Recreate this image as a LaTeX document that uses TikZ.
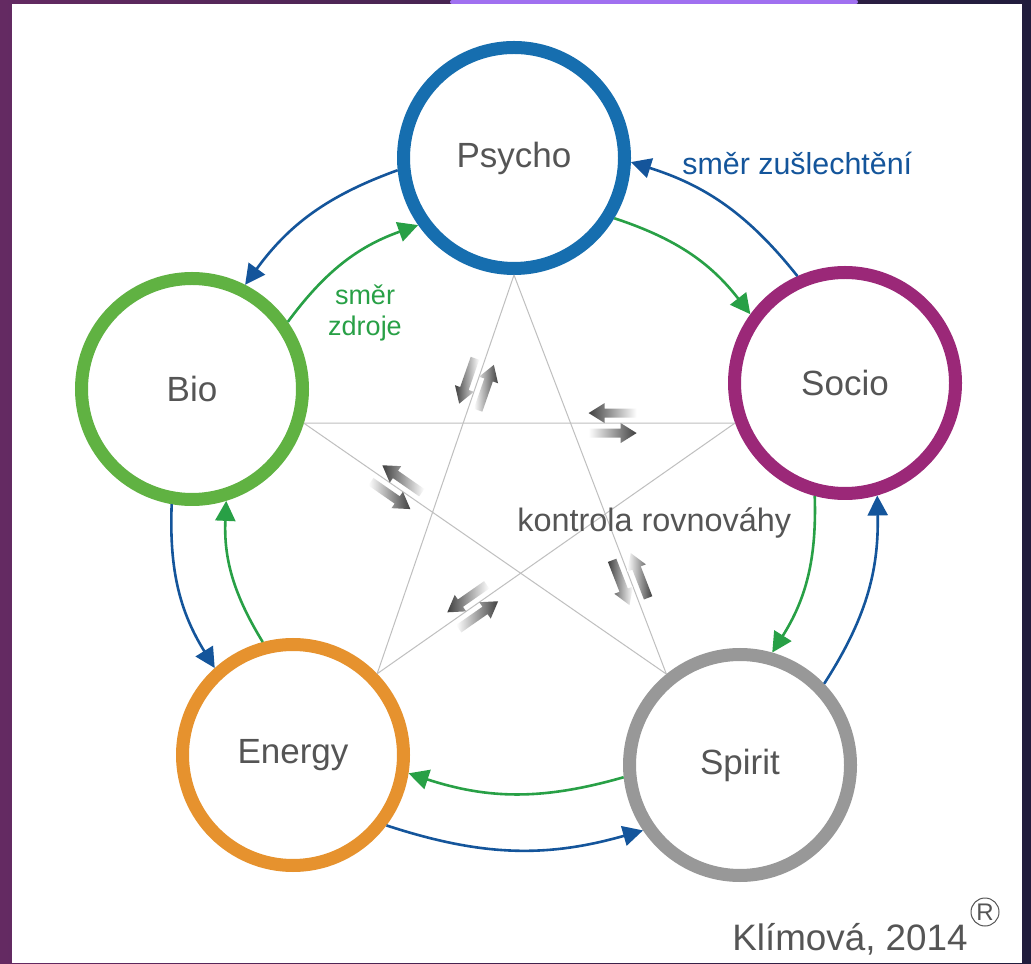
\documentclass[tikz,border=0pt]{standalone}
\usepackage{fontspec}
\setmainfont{Liberation Sans}
\usetikzlibrary{arrows.meta}
\definecolor{psyblue}{RGB}{22,110,175}
\definecolor{biogreen}{RGB}{96,178,66}
\definecolor{socmagenta}{RGB}{155,40,120}
\definecolor{eneorange}{RGB}{230,146,46}
\definecolor{spigrey}{RGB}{152,152,152}
\definecolor{upblue}{RGB}{20,85,155}
\definecolor{srcgreen}{RGB}{40,160,70}
\definecolor{txtgrey}{RGB}{85,85,85}
\definecolor{bgpurple}{RGB}{100,42,98}
\definecolor{bgnavy}{RGB}{32,28,60}
\definecolor{tab}{RGB}{160,112,240}
\begin{document}
\begin{tikzpicture}[x=0.5pt, y=0.5pt,
    sphere/.style ={circle, draw, line width=6.5pt, minimum size=110.5pt, inner sep=0pt, text=txtgrey, font=\fontsize{17.5}{21}\selectfont},
    outer/.style ={draw=upblue, line width=1.3pt, -{Triangle[length=10pt,width=10pt]}, bend right=17},
    inner/.style ={draw=srcgreen, line width=1.3pt, -{Triangle[length=10pt,width=10pt]}, bend left=17},
    star/.style ={draw=black!25, line width=0.5pt},
    flowpair/.pic ={
      \shade[left color=black!75, right color=white] (-24,10) -- (-8,20) -- (-8,14.5) -- (24,14.5) -- (24,5.5) -- (-8,5.5) -- (-8,0) -- cycle;
      \shade[left color=white, right color=black!75] (24,-10) -- (8,0) -- (8,-5.5) -- (-24,-5.5) -- (-24,-14.5) -- (8,-14.5) -- (8,-20) -- cycle;}]
   \useasboundingbox (0,0) rectangle (1031,963);
   \shade[left color=bgpurple, right color=bgnavy] (0,0) rectangle (1031,963);
   \fill[white] (12,0) rectangle (1022,959);
   \fill[tab, rounded corners=1pt] (450,959) rectangle (858,963);

   \node[sphere, draw=psyblue] (Ps) at (514,805) {Psycho};
   \node[sphere, draw=biogreen] (Bi) at (192,574) {Bio};
   \node[sphere, draw=socmagenta] (So) at (845,580) {Socio};
   \node[sphere, draw=spigrey] (Sp) at (740,198) {Spirit};
   \node[sphere, draw=eneorange] (En) at (293,208) {Energy};

   \draw[star] (Ps.-90) -- coordinate[pos=0.274] (f1) (En.44);
   \draw[star] (Bi.-17) -- coordinate[pos=0.716] (f2) (So.200);
   \draw[star] (Bi.-17) -- coordinate[pos=0.255] (f3) (Sp.129);
   \draw[star] (So.200) -- coordinate[pos=0.733] (f4) (En.44);
   \draw[star] (Ps.-90) -- coordinate[pos=0.762] (f5) (Sp.129);
   \pic[rotate=70.8] at (f1) {flowpair};
   \pic at (f2) {flowpair};
   \pic[rotate=-34.8] at (f3) {flowpair};
   \pic[rotate=34.9] at (f4) {flowpair};
   \pic[rotate=111.2] at (f5) {flowpair};

   \draw[outer] (Ps.186.6) to (Bi.63.6);
   \draw[inner] (Bi.35) to (Ps.215);
   \draw[inner] (Ps.-31) to (So.144);
   \draw[outer] (So.114) to (Ps.-2);
   \draw[inner] (So.255) to (Sp.74);
   \draw[outer] (Sp.44) to (So.-74);
   \draw[inner] (Sp.186) to (En.-9);
   \draw[outer] (En.-37) to (Sp.214);
   \draw[outer] (Bi.260) to (En.132);
   \draw[inner] (En.105) to (Bi.-73);

   \node[text=upblue, anchor=base west, inner sep=0pt, font=\fontsize{15.2}{18}\selectfont] (zus) at (682,788) {směr zušlechtění};
   \node[text=srcgreen, align=center, font=\fontsize{13.5}{15.5}\selectfont] (zdr) at (365,650) {směr\\zdroje};
   \node[text=txtgrey, anchor=base west, inner sep=0pt, font=\fontsize{16.2}{19}\selectfont] (kon) at (517,431) {kontrola rovnováhy};
   \node[text=txtgrey, anchor=base east, inner sep=0pt, font=\fontsize{18.4}{22}\selectfont] (kli) at (968,13) {Klímová, 2014};
   \node[circle, draw=txtgrey, line width=0.5pt, inner sep=0pt, minimum size=14pt, text=txtgrey, font=\fontsize{12}{12}\selectfont] (reg) at (985,51) {R};
 \end{tikzpicture}
\end{document}
